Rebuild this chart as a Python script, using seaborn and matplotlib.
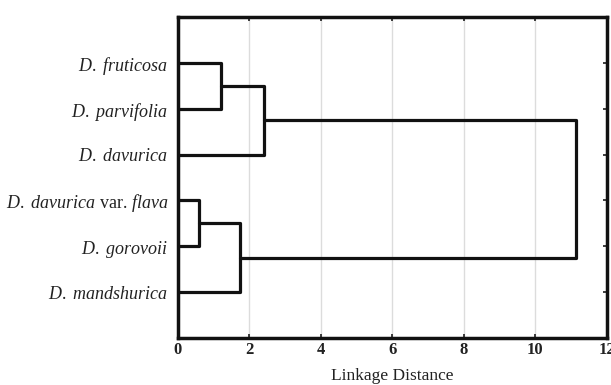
import pandas as pd
import matplotlib.pyplot as plt
import seaborn as sns

# leaves from top to bottom
leaves = ["D. fruticosa", "D. parvifolia", "D. davurica",
          "D. davurica var. flava", "D. gorovoii", "D. mandshurica"]
# merges: nodes 0-5 are leaves, 6+ are clusters in merge order
# node 6=(0,1), 7=(3,4), 8=(6,2), 9=(7,5), 10=(8,9)
merge_left = [0, 3, 6, 7, 8]
merge_right = [1, 4, 2, 5, 9]
merge_height = [1.2, 0.6, 2.4, 1.75, 11.15]

tick_labels = [r"$\it{D.\ fruticosa}$", r"$\it{D.\ parvifolia}$", r"$\it{D.\ davurica}$",
               r"$\it{D.\ davurica}$ var. $\it{flava}$", r"$\it{D.\ gorovoii}$",
               r"$\it{D.\ mandshurica}$"]
x_ticks = [0, 2, 4, 6, 8, 10, 12]


def build_segments():
    ypos = {i: i + 1 for i in range(len(leaves))}
    hpos = {i: 0.0 for i in range(len(leaves))}
    rows = []
    for k, (a, b, h) in enumerate(zip(merge_left, merge_right, merge_height)):
        node = len(leaves) + k
        pts = [(hpos[a], ypos[a]), (h, ypos[a]), (h, ypos[b]), (hpos[b], ypos[b])]
        for order, (x, y) in enumerate(pts):
            rows.append({"link": k, "order": order, "dist": x, "pos": y})
        ypos[node] = (ypos[a] + ypos[b]) / 2
        hpos[node] = h
    return pd.DataFrame(rows)


sns.set_theme(style="white")
plt.rcParams.update({
    "font.family": ["Liberation Serif", "DejaVu Serif"],
    "mathtext.fontset": "custom",
    "mathtext.rm": "Liberation Serif",
    "mathtext.it": "Liberation Serif:italic",
})

df = build_segments()

fig = plt.figure(figsize=(6.11, 3.85), dpi=100)
ax = fig.add_axes([0.291, 0.122, 0.702, 0.834])

for x in x_ticks[1:-1]:
    ax.axvline(x, color="#dcdcdc", linewidth=1, zorder=0)

sns.lineplot(data=df, x="dist", y="pos", units="link", estimator=None,
             sort=False, color="#111111", linewidth=2.3, ax=ax, legend=False)

ax.set_xlim(0, 12)
ax.set_ylim(7, 0)
ax.set_xticks(x_ticks)
ax.set_xticklabels([str(t) for t in x_ticks], fontweight="bold", fontsize=12)
ax.set_yticks(range(1, len(leaves) + 1))
ax.set_yticklabels(tick_labels, fontsize=13, color="#222222")
ax.set_xlabel("Linkage Distance", fontsize=12.5, labelpad=7, color="#222222")
ax.set_ylabel("")
ax.tick_params(axis="y", left=False, right=True, direction="in", length=3, pad=7)
ax.tick_params(axis="x", bottom=True, top=True, direction="in", length=3, pad=3,
               labelcolor="#222222")

for s in ax.spines.values():
    s.set_linewidth(2.5)
    s.set_color("#111111")

fig.savefig("out.png", dpi=100)
